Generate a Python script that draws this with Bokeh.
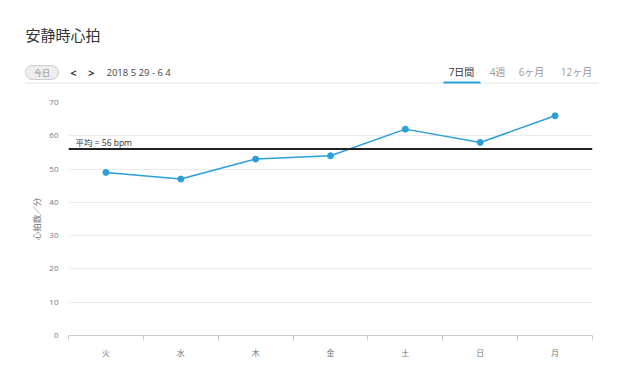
from bokeh.plotting import figure
from bokeh.models import Range1d, FixedTicker, Span, Label, ColumnDataSource
from bokeh.layouts import column
from bokeh.core.properties import value
from bokeh.embed import file_html
from bokeh.resources import INLINE

# ---- data ----
days = ["火", "水", "木", "金", "土", "日", "月"]
heart_rate = [49, 47, 53, 54, 62, 58, 66]
average_bpm = 56
y_ticks = [0, 10, 20, 30, 40, 50, 60, 70]
title_text = "安静時心拍"
date_text = "2018 5 29 - 6 4"
tabs = ["7日間", "4週", "6ヶ月", "12ヶ月"]
y_label = "心拍数／分"

FONT = "'Open Sans', 'Noto Sans CJK JP', sans-serif"
BLUE = "#2b9fd9"
W = 632
HH = 88
FL, FR = 68, 592  # chart frame left/right (page px); header frame is aligned to it

# ---- header (coordinates = page pixels) ----
h = figure(width=W, height=HH, x_range=Range1d(FL, FR), y_range=Range1d(HH, 0),
           output_backend="svg", toolbar_location=None,
           min_border_left=FL, min_border_right=W - FR, min_border_top=0, min_border_bottom=0,
           x_axis_location=None, y_axis_location=None)
h.grid.visible = False
h.outline_line_color = None

lv = "overlay"
h.text(x=[25], y=[34], text=[title_text], text_font=value(FONT), text_font_size="15px",
       text_color="#333333", text_baseline="middle", text_align="left", level=lv)
h.quad(left=[25], right=[58], top=[65], bottom=[79], fill_color="#eeeeee",
       line_color="#cccccc", border_radius=7, level=lv)
h.text(x=[41.5], y=[72], text=["今日"], text_font=value(FONT), text_font_size="8px",
       text_color="#888888", text_baseline="middle", text_align="center", level=lv)
h.text(x=[73, 91], y=[72, 72], text=["<", ">"], text_font=value(FONT), text_font_size="11px",
       text_font_style="bold", text_color="#333333", text_baseline="middle", text_align="center",
       level=lv)
h.text(x=[106], y=[72], text=[date_text], text_font=value(FONT), text_font_size="9.5px",
       text_color="#444444", text_baseline="middle", text_align="left", level=lv)
tab_x = [461, 497, 531, 576]
tab_colors = ["#333333", "#999999", "#999999", "#999999"]
h.text(x=tab_x, y=[71] * 4, text=tabs, text_font=value(FONT), text_font_size="10px",
       text_color=tab_colors, text_baseline="middle", text_align="center", level=lv)
h.segment(x0=[25], y0=[82.5], x1=[598], y1=[82.5], line_color="#e3e3e3", line_width=1, level=lv)
h.segment(x0=[443], y0=[82], x1=[480], y1=[82], line_color=BLUE, line_width=2, level=lv)

# ---- chart ----
p = figure(width=W, height=380 - HH, x_range=Range1d(0, len(days)), y_range=Range1d(0, 70),
           output_backend="svg", toolbar_location=None,
           min_border_left=FL, min_border_right=W - FR, min_border_top=102 - HH,
           min_border_bottom=380 - 335)
p.outline_line_color = None

xs = [i + 0.5 for i in range(len(days))]
src = ColumnDataSource(dict(x=xs, y=heart_rate))

p.xaxis.ticker = FixedTicker(ticks=xs, minor_ticks=list(range(len(days) + 1)))
p.xaxis.major_label_overrides = {x: d for x, d in zip(xs, days)}
p.xaxis.major_tick_line_color = None
p.xaxis.major_tick_out = 0
p.xaxis.major_tick_in = 0
p.xaxis.minor_tick_line_color = "#cccccc"
p.xaxis.minor_tick_out = 5
p.xaxis.minor_tick_in = 0
p.xaxis.axis_line_color = "#cccccc"
p.xaxis.major_label_text_font = FONT
p.xaxis.major_label_text_font_size = "8px"
p.xaxis.major_label_text_color = "#777777"
p.xaxis.major_label_standoff = 6
p.xgrid.visible = False

p.yaxis.ticker = FixedTicker(ticks=y_ticks)
p.yaxis.axis_line_color = None
p.yaxis.major_tick_line_color = None
p.yaxis.major_tick_out = 0
p.yaxis.major_tick_in = 0
p.yaxis.minor_tick_line_color = None
p.yaxis.major_label_text_font = FONT
p.yaxis.major_label_text_font_size = "8px"
p.yaxis.major_label_text_color = "#777777"
p.yaxis.major_label_standoff = 10
p.yaxis.axis_label = y_label
p.yaxis.axis_label_text_font = FONT
p.yaxis.axis_label_text_font_size = "8.5px"
p.yaxis.axis_label_text_font_style = "normal"
p.yaxis.axis_label_text_color = "#777777"
p.yaxis.axis_label_standoff = 4
p.ygrid.grid_line_color = "#ebebeb"

p.add_layout(Span(location=average_bpm, dimension="width", line_color="#222222", line_width=2))
p.add_layout(Label(x=0, y=average_bpm, x_offset=7, y_offset=1.5,
                   text=f"平均 = {average_bpm} bpm", text_font=FONT, text_font_size="8.5px",
                   text_color="#333333", text_baseline="bottom"))

p.line("x", "y", source=src, line_color=BLUE, line_width=1.5)
p.scatter("x", "y", source=src, size=6, fill_color=BLUE, line_color=BLUE)

layout = column(h, p, spacing=0)
open("out.html", "w").write(file_html(layout, INLINE))
